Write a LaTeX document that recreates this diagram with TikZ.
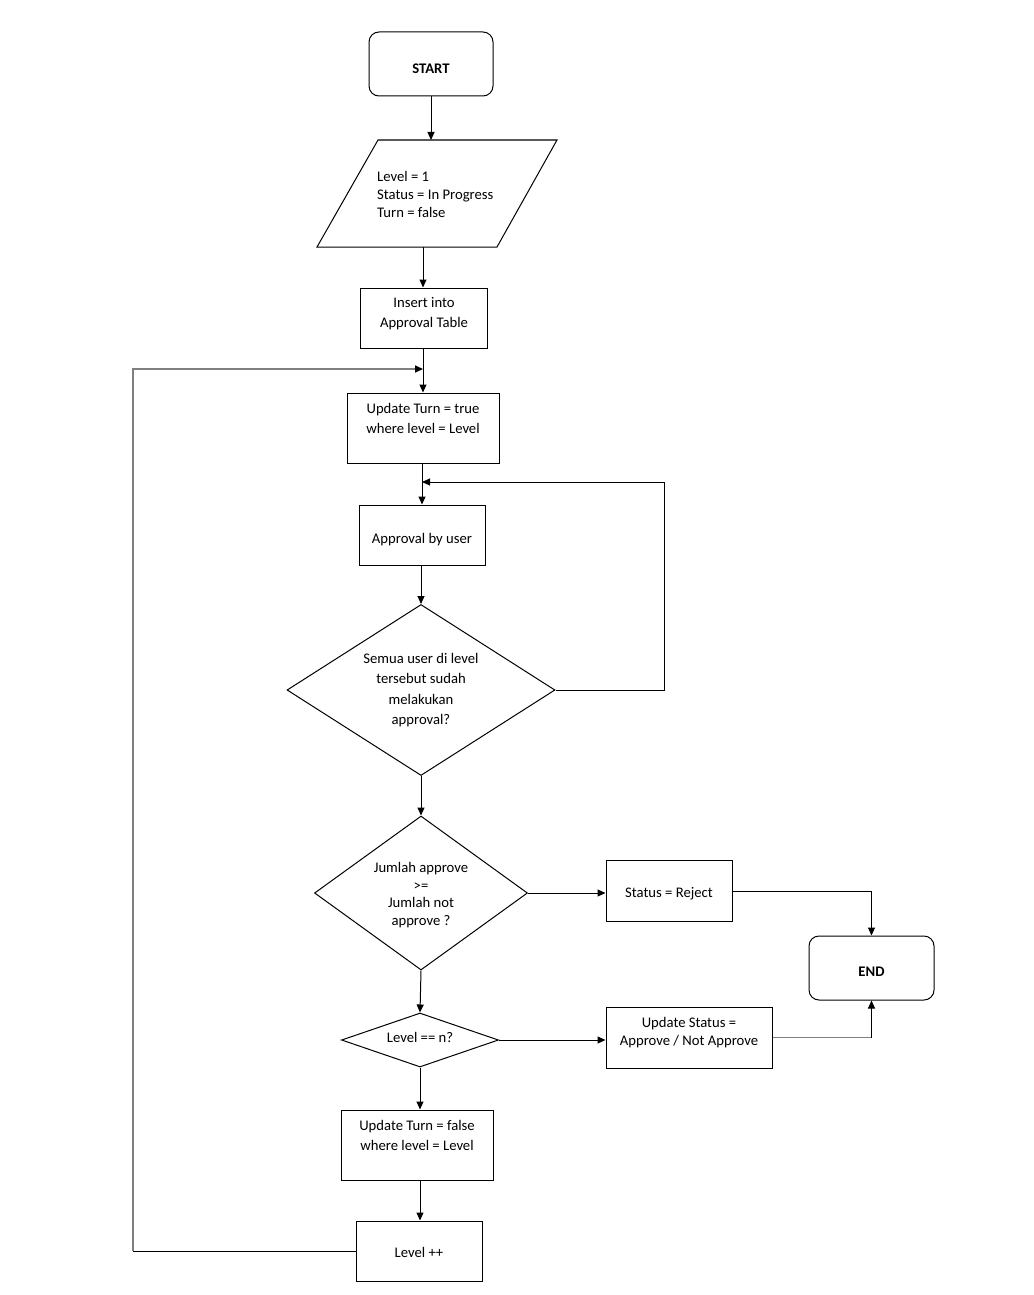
\documentclass[tikz,border=0pt]{standalone}
\usepackage{fontspec}
\setmainfont{Carlito}
\usetikzlibrary{arrows.meta,shapes.geometric}
\definecolor{lgray}{RGB}{128,128,128}
\begin{document}
\begin{tikzpicture}[x=1pt,y=-1pt,
  every node/.style={font=\fontsize{14.67}{20}\selectfont, inner sep=0pt},
  box/.style={draw, line width=1pt, align=center},
  rbox/.style={box, rounded corners=10pt, font=\fontsize{14.67}{18}\selectfont\bfseries},
  dia/.style={draw, diamond, line width=1pt, inner sep=0pt},
  conn/.style={line width=1pt},
  arr/.style={conn, -{Triangle[length=8pt,width=7pt]}},
  gconn/.style={line width=1.6pt, draw=lgray},
  garr/.style={gconn, -{Triangle[length=8pt,width=7pt,color=black]}},
  tight/.style={font=\fontsize{14.67}{18}\selectfont}]
\useasboundingbox[fill=white] (0,0) rectangle (1033,1295);

% nodes
\node[rbox, minimum width=124pt, minimum height=64pt, text height=19pt, text depth=0pt] (start) at (431,64) {START};

\coordinate (pTL) at (378,140);
\coordinate (pTR) at (557,140);
\coordinate (pBR) at (497,247);
\coordinate (pBL) at (317,247);
\draw[conn] (pTL) -- (pTR) -- (pBR) -- (pBL) -- cycle;
\coordinate (ptop) at (431,140);
\coordinate (pbot) at (423,247);
\node[tight, align=left, anchor=west] (paratext) at (377,194) {Level = 1\\Status = In Progress\\Turn = false};

\node[box, minimum width=127pt, minimum height=60pt] (ins) at (424,318) {Insert into\\Approval Table\\[-8pt]\mbox{}};

\node[box, minimum width=152pt, minimum height=70pt] (updt) at (423,428) {Update Turn = true\\where level = Level\\\mbox{}};

\node[box, minimum width=126pt, minimum height=60pt, text height=16pt, text depth=0pt] (appr) at (422,535) {Approval by user};

\node[dia, minimum width=268pt, minimum height=171pt] (d1) at (421,690) {};
\node[align=center, font=\fontsize{14.67}{20.5}\selectfont] (d1t) at (421,690) {Semua user di level\\tersebut sudah\\melakukan\\approval?};

\node[dia, minimum width=213pt, minimum height=154pt] (d2) at (421,893) {};
\node[align=center, font=\fontsize{14.67}{17.6}\selectfont] (d2t) at (421,895) {Jumlah approve\\>=\\Jumlah not\\approve ?};

\node[box, minimum width=126pt, minimum height=61pt, text height=13pt, text depth=0pt] (rej) at (669,891) {Status = Reject};

\node[rbox, minimum width=125pt, minimum height=64pt, text height=16pt, text depth=0pt] (end) at (871.5,968) {END};

\node[dia, minimum width=157pt, minimum height=54pt] (d3) at (420,1040) {};
\node (d3t) at (420,1037) {Level == n?};

\node[box, tight, minimum width=166pt, minimum height=61pt] (upds) at (689,1037.5) {Update Status =\\Approve / Not Approve\\[-5pt]\mbox{}};

\node[box, minimum width=152pt, minimum height=70pt] (updf) at (417,1145) {Update Turn = false\\where level = Level\\\mbox{}};

\node[box, minimum width=126pt, minimum height=60pt, text height=13.4pt, text depth=0pt] (lvl) at (419,1251) {Level ++};

% helper coordinates
\coordinate (lb) at (133,1251);
\coordinate (lt) at (133,369);
\coordinate (ljoin) at (423,369);
\coordinate (rloop) at (664,482);
\coordinate (ecorner) at (871.5,1037.5);

% connectors
\draw[arr] (start.south) -- (start.south |- ptop);
\draw[arr] (pbot) -- (pbot |- ins.north);
\draw[arr] (ins.south -| updt.north) -- (updt.north);
\draw[conn] (lvl.west) -- (lb);
\draw[garr] (lb) -- (lt) -- (ljoin);
\draw[arr] (updt.south -| appr.north) -- (appr.north);
\draw[arr] (d1.east) -| (rloop) -- (rloop -| appr.north);
\draw[arr] (appr.south -| d1.north) -- (d1.north);
\draw[arr] (d1.south) -- (d2.north);
\draw[arr] (d2.east) -- (d2.east -| rej.west);
\draw[arr] (rej.east) -| (end.north);
\draw[arr] (d2.south) -- (d3.north);
\draw[arr] (d3.east) -- (d3.east -| upds.west);
\draw[gconn] (upds.east) -- (ecorner);
\draw[arr] (ecorner) -- (end.south);
\draw[arr] (d3.south) -- (d3.south |- updf.north);
\draw[arr] (d3.south |- updf.south) -- (d3.south |- lvl.north);
\end{tikzpicture}
\end{document}
